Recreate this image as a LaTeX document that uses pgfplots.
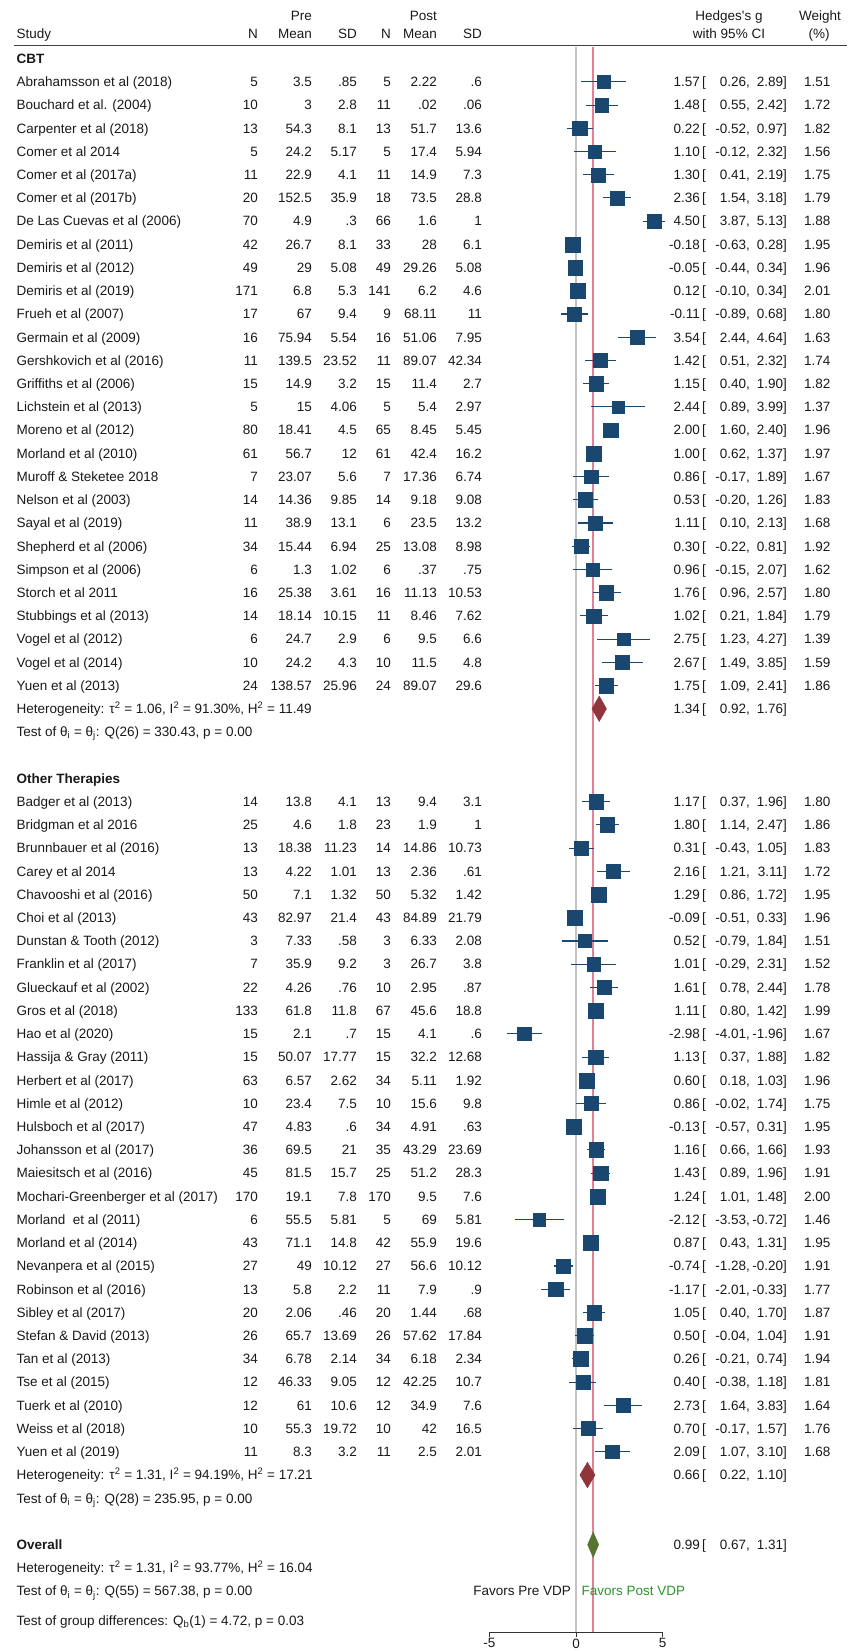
\documentclass[border=0pt]{standalone}
\usepackage{fontspec}
\setmainfont{Liberation Sans}
\usepackage{pgfplots}
\usepackage{pgfplotstable}
\pgfplotsset{compat=1.18}
\definecolor{navy}{RGB}{26,71,111}
\definecolor{maroon}{RGB}{144,53,59}
\definecolor{fgreen}{RGB}{85,117,47}
\definecolor{refred}{RGB}{226,128,148}
\definecolor{zgray}{RGB}{195,195,195}
\definecolor{txt}{RGB}{25,25,25}
\definecolor{favgreen}{RGB}{40,150,40}

% k = row index (from top), g = Hedges's g, lo/hi = 95% CI, w = weight (%)
\pgfplotstableread{
k g lo hi w
1 1.57 0.26 2.89 1.51
2 1.48 0.55 2.42 1.72
3 0.22 -0.52 0.97 1.82
4 1.10 -0.12 2.32 1.56
5 1.30 0.41 2.19 1.75
6 2.36 1.54 3.18 1.79
7 4.50 3.87 5.13 1.88
8 -0.18 -0.63 0.28 1.95
9 -0.05 -0.44 0.34 1.96
10 0.12 -0.10 0.34 2.01
11 -0.11 -0.89 0.68 1.80
12 3.54 2.44 4.64 1.63
13 1.42 0.51 2.32 1.74
14 1.15 0.40 1.90 1.82
15 2.44 0.89 3.99 1.37
16 2.00 1.60 2.40 1.96
17 1.00 0.62 1.37 1.97
18 0.86 -0.17 1.89 1.67
19 0.53 -0.20 1.26 1.83
20 1.11 0.10 2.13 1.68
21 0.30 -0.22 0.81 1.92
22 0.96 -0.15 2.07 1.62
23 1.76 0.96 2.57 1.80
24 1.02 0.21 1.84 1.79
25 2.75 1.23 4.27 1.39
26 2.67 1.49 3.85 1.59
27 1.75 1.09 2.41 1.86
32 1.17 0.37 1.96 1.80
33 1.80 1.14 2.47 1.86
34 0.31 -0.43 1.05 1.83
35 2.16 1.21 3.11 1.72
36 1.29 0.86 1.72 1.95
37 -0.09 -0.51 0.33 1.96
38 0.52 -0.79 1.84 1.51
39 1.01 -0.29 2.31 1.52
40 1.61 0.78 2.44 1.78
41 1.11 0.80 1.42 1.99
42 -2.98 -4.01 -1.96 1.67
43 1.13 0.37 1.88 1.82
44 0.60 0.18 1.03 1.96
45 0.86 -0.02 1.74 1.75
46 -0.13 -0.57 0.31 1.95
47 1.16 0.66 1.66 1.93
48 1.43 0.89 1.96 1.91
49 1.24 1.01 1.48 2.00
50 -2.12 -3.53 -0.72 1.46
51 0.87 0.43 1.31 1.95
52 -0.74 -1.28 -0.20 1.91
53 -1.17 -2.01 -0.33 1.77
54 1.05 0.40 1.70 1.87
55 0.50 -0.04 1.04 1.91
56 0.26 -0.21 0.74 1.94
57 0.40 -0.38 1.18 1.81
58 2.73 1.64 3.83 1.64
59 0.70 -0.17 1.57 1.76
60 2.09 1.07 3.10 1.68
}\studies

\begin{document}
\begin{tikzpicture}[font=\fontsize{13.5}{16}\selectfont,
  every node/.append style={text=txt,inner sep=0pt}]
\useasboundingbox (0pt,0pt) rectangle (856pt,1651pt);
\begin{axis}[at={(0pt,0pt)},anchor=south west,scale only axis,
  width=856pt,height=1651pt,
  xmin=-33.237,xmax=16.157,ymin=-68.5788,ymax=2.5237,
  hide axis,clip=false]
  % no-effect line and overall-effect line
  \addplot[zgray,line width=1.6pt] coordinates {(0,0.5125) (0,-67.791)};
  \addplot[refred,line width=1.5pt] coordinates {(0.99,0.5125) (0.99,-67.791)};
  % confidence intervals
  \addplot[only marks,mark=none,navy,
    error bars/.cd,x dir=both,x explicit,error mark=none,
    error bar style={line width=1.1pt,color=navy}]
    table[x=g,y expr=-\thisrow{k},x error minus expr=\thisrow{g}-\thisrow{lo},
          x error plus expr=\thisrow{hi}-\thisrow{g}] {\studies};
  % weighted squares
  \addplot[scatter,only marks,mark=square*,
    scatter/use mapped color={draw=navy,fill=navy},
    visualization depends on={5.3*sqrt(\thisrow{w}) \as \msize},
    scatter/@pre marker code/.append style={/tikz/mark size=\msize}]
    table[x=g,y expr=-\thisrow{k}] {\studies};
  % pooled diamonds
  \addplot[fill=maroon,draw=maroon] coordinates {(0.92,-28) (1.34,-27.45) (1.76,-28) (1.34,-28.55)} --cycle;
  \addplot[fill=maroon,draw=maroon] coordinates {(0.22,-61) (0.66,-60.45) (1.10,-61) (0.66,-61.55)} --cycle;
  \addplot[fill=fgreen,draw=fgreen] coordinates {(0.67,-64) (0.99,-63.45) (1.31,-64) (0.99,-64.55)} --cycle;
\end{axis}

\begin{scope}[x=1pt,y=-1pt,yshift=1651pt]
% header
\node[anchor=base east] at (312,20.8) {Pre};
\node[anchor=base east] at (437,20.8) {Post};
\node[anchor=base] at (729,20.8) {Hedges\textquotesingle s g};
\node[anchor=base] at (820,20.8) {Weight};
\node[anchor=base west] at (16.5,38.8) {Study};
\node[anchor=base east] at (258,38.8) {N};
\node[anchor=base east] at (312,38.8) {Mean};
\node[anchor=base east] at (357,38.8) {SD};
\node[anchor=base east] at (391,38.8) {N};
\node[anchor=base east] at (437,38.8) {Mean};
\node[anchor=base east] at (482,38.8) {SD};
\node[anchor=base] at (729,38.8) {with 95\% CI};
\node[anchor=base] at (819,38.8) {(\%)};
\draw[black!75,line width=1.2pt] (14,45.6) -- (847,45.6);

\node[anchor=base west] at (16.5,63.4) {\bfseries CBT};
\node[anchor=base west] at (16.5,783.22) {\bfseries Other Therapies};
\node[anchor=base west] at (16.5,1549.48) {\bfseries Overall};

\foreach \kk/\nm/\nA/\mA/\sA/\nB/\mB/\sB/\es/\lo/\hi/\ww in {
1/Abrahamsson et al (2018)/5/3.5/.85/5/2.22/.6/1.57/0.26/2.89/1.51,
2/Bouchard et al. (2004)/10/3/2.8/11/.02/.06/1.48/0.55/2.42/1.72,
3/Carpenter et al (2018)/13/54.3/8.1/13/51.7/13.6/0.22/-0.52/0.97/1.82,
4/Comer et al 2014/5/24.2/5.17/5/17.4/5.94/1.10/-0.12/2.32/1.56,
5/Comer et al (2017a)/11/22.9/4.1/11/14.9/7.3/1.30/0.41/2.19/1.75,
6/Comer et al (2017b)/20/152.5/35.9/18/73.5/28.8/2.36/1.54/3.18/1.79,
7/De Las Cuevas et al (2006)/70/4.9/.3/66/1.6/1/4.50/3.87/5.13/1.88,
8/Demiris et al (2011)/42/26.7/8.1/33/28/6.1/-0.18/-0.63/0.28/1.95,
9/Demiris et al (2012)/49/29/5.08/49/29.26/5.08/-0.05/-0.44/0.34/1.96,
10/Demiris et al (2019)/171/6.8/5.3/141/6.2/4.6/0.12/-0.10/0.34/2.01,
11/Frueh et al (2007)/17/67/9.4/9/68.11/11/-0.11/-0.89/0.68/1.80,
12/Germain et al (2009)/16/75.94/5.54/16/51.06/7.95/3.54/2.44/4.64/1.63,
13/Gershkovich et al (2016)/11/139.5/23.52/11/89.07/42.34/1.42/0.51/2.32/1.74,
14/Griffiths et al (2006)/15/14.9/3.2/15/11.4/2.7/1.15/0.40/1.90/1.82,
15/Lichstein et al (2013)/5/15/4.06/5/5.4/2.97/2.44/0.89/3.99/1.37,
16/Moreno et al (2012)/80/18.41/4.5/65/8.45/5.45/2.00/1.60/2.40/1.96,
17/Morland et al (2010)/61/56.7/12/61/42.4/16.2/1.00/0.62/1.37/1.97,
18/Muroff \& Steketee 2018/7/23.07/5.6/7/17.36/6.74/0.86/-0.17/1.89/1.67,
19/Nelson et al (2003)/14/14.36/9.85/14/9.18/9.08/0.53/-0.20/1.26/1.83,
20/Sayal et al (2019)/11/38.9/13.1/6/23.5/13.2/1.11/0.10/2.13/1.68,
21/Shepherd et al (2006)/34/15.44/6.94/25/13.08/8.98/0.30/-0.22/0.81/1.92,
22/Simpson et al (2006)/6/1.3/1.02/6/.37/.75/0.96/-0.15/2.07/1.62,
23/Storch et al 2011/16/25.38/3.61/16/11.13/10.53/1.76/0.96/2.57/1.80,
24/Stubbings et al (2013)/14/18.14/10.15/11/8.46/7.62/1.02/0.21/1.84/1.79,
25/Vogel et al (2012)/6/24.7/2.9/6/9.5/6.6/2.75/1.23/4.27/1.39,
26/Vogel et al (2014)/10/24.2/4.3/10/11.5/4.8/2.67/1.49/3.85/1.59,
27/Yuen et al (2013)/24/138.57/25.96/24/89.07/29.6/1.75/1.09/2.41/1.86,
32/Badger et al (2013)/14/13.8/4.1/13/9.4/3.1/1.17/0.37/1.96/1.80,
33/Bridgman et al 2016/25/4.6/1.8/23/1.9/1/1.80/1.14/2.47/1.86,
34/Brunnbauer et al (2016)/13/18.38/11.23/14/14.86/10.73/0.31/-0.43/1.05/1.83,
35/Carey et al 2014/13/4.22/1.01/13/2.36/.61/2.16/1.21/3.11/1.72,
36/Chavooshi et al (2016)/50/7.1/1.32/50/5.32/1.42/1.29/0.86/1.72/1.95,
37/Choi et al (2013)/43/82.97/21.4/43/84.89/21.79/-0.09/-0.51/0.33/1.96,
38/Dunstan \& Tooth (2012)/3/7.33/.58/3/6.33/2.08/0.52/-0.79/1.84/1.51,
39/Franklin et al (2017)/7/35.9/9.2/3/26.7/3.8/1.01/-0.29/2.31/1.52,
40/Glueckauf et al (2002)/22/4.26/.76/10/2.95/.87/1.61/0.78/2.44/1.78,
41/Gros et al (2018)/133/61.8/11.8/67/45.6/18.8/1.11/0.80/1.42/1.99,
42/Hao et al (2020)/15/2.1/.7/15/4.1/.6/-2.98/-4.01/-1.96/1.67,
43/Hassija \& Gray (2011)/15/50.07/17.77/15/32.2/12.68/1.13/0.37/1.88/1.82,
44/Herbert et al (2017)/63/6.57/2.62/34/5.11/1.92/0.60/0.18/1.03/1.96,
45/Himle et al (2012)/10/23.4/7.5/10/15.6/9.8/0.86/-0.02/1.74/1.75,
46/Hulsboch et al (2017)/47/4.83/.6/34/4.91/.63/-0.13/-0.57/0.31/1.95,
47/Johansson et al (2017)/36/69.5/21/35/43.29/23.69/1.16/0.66/1.66/1.93,
48/Maiesitsch et al (2016)/45/81.5/15.7/25/51.2/28.3/1.43/0.89/1.96/1.91,
49/Mochari-Greenberger et al (2017)/170/19.1/7.8/170/9.5/7.6/1.24/1.01/1.48/2.00,
50/Morland\ \ et al (2011)/6/55.5/5.81/5/69/5.81/-2.12/-3.53/-0.72/1.46,
51/Morland et al (2014)/43/71.1/14.8/42/55.9/19.6/0.87/0.43/1.31/1.95,
52/Nevanpera et al (2015)/27/49/10.12/27/56.6/10.12/-0.74/-1.28/-0.20/1.91,
53/Robinson et al (2016)/13/5.8/2.2/11/7.9/.9/-1.17/-2.01/-0.33/1.77,
54/Sibley et al (2017)/20/2.06/.46/20/1.44/.68/1.05/0.40/1.70/1.87,
55/Stefan \& David (2013)/26/65.7/13.69/26/57.62/17.84/0.50/-0.04/1.04/1.91,
56/Tan et al (2013)/34/6.78/2.14/34/6.18/2.34/0.26/-0.21/0.74/1.94,
57/Tse et al (2015)/12/46.33/9.05/12/42.25/10.7/0.40/-0.38/1.18/1.81,
58/Tuerk et al (2010)/12/61/10.6/12/34.9/7.6/2.73/1.64/3.83/1.64,
59/Weiss et al (2018)/10/55.3/19.72/10/42/16.5/0.70/-0.17/1.57/1.76,
60/Yuen et al (2019)/11/8.3/3.2/11/2.5/2.01/2.09/1.07/3.10/1.68}{
  \pgfmathsetmacro\yb{63.4+23.22*\kk}
  \node[anchor=base west] at (16.5,\yb) {\nm};
  \node[anchor=base east] at (258,\yb) {\nA};
  \node[anchor=base east] at (312,\yb) {\mA};
  \node[anchor=base east] at (357,\yb) {\sA};
  \node[anchor=base east] at (391,\yb) {\nB};
  \node[anchor=base east] at (437,\yb) {\mB};
  \node[anchor=base east] at (482,\yb) {\sB};
  \node[anchor=base east] at (700,\yb) {\es};
  \node[anchor=base west] at (702,\yb) {[};
  \node[anchor=base east] at (750,\yb) {\lo,};
  \node[anchor=base east] at (787,\yb) {\hi]};
  \node[anchor=base east] at (830.5,\yb) {\ww};
}

% subgroup and overall summaries
\foreach \yb/\es/\lo/\hi in {713.56/1.34/0.92/1.76, 1479.82/0.66/0.22/1.10, 1549.48/0.99/0.67/1.31}{
  \node[anchor=base east] at (700,\yb) {\es};
  \node[anchor=base west] at (702,\yb) {[};
  \node[anchor=base east] at (750,\yb) {\lo,};
  \node[anchor=base east] at (787,\yb) {\hi]};
}
\node[anchor=base west] at (16.5,713.56) {Heterogeneity: τ\textsuperscript{2} = 1.06, I\textsuperscript{2} = 91.30\%, H\textsuperscript{2} = 11.49};
\node[anchor=base west] at (16.5,736.78) {Test of θ\textsubscript{i} = θ\textsubscript{j}: Q(26) = 330.43, p = 0.00};
\node[anchor=base west] at (16.5,1479.82) {Heterogeneity: τ\textsuperscript{2} = 1.31, I\textsuperscript{2} = 94.19\%, H\textsuperscript{2} = 17.21};
\node[anchor=base west] at (16.5,1503.04) {Test of θ\textsubscript{i} = θ\textsubscript{j}: Q(28) = 235.95, p = 0.00};
\node[anchor=base west] at (16.5,1572.70) {Heterogeneity: τ\textsuperscript{2} = 1.31, I\textsuperscript{2} = 93.77\%, H\textsuperscript{2} = 16.04};
\node[anchor=base west] at (16.5,1595.92) {Test of θ\textsubscript{i} = θ\textsubscript{j}: Q(55) = 567.38, p = 0.00};
\node[anchor=base west] at (16.5,1625.5) {Test of group differences: Q\textsubscript{b}(1) = 4.72, p = 0.03};

\node[anchor=base east] at (571,1595.92) {Favors Pre VDP};
\node[anchor=base west,text=favgreen] at (581.5,1595.92) {Favors Post VDP};

% x axis
\draw[black!80,line width=1pt] (489.35,1632.7) -- (662.65,1632.7);
\foreach \xx/\lab in {489.35/-5,576/0,662.65/5}{
  \draw[black!80,line width=1pt] (\xx,1632.2) -- (\xx,1637);
  \node[anchor=north] at (\xx,1638.5) {\lab};
}
\end{scope}
\end{tikzpicture}
\end{document}
